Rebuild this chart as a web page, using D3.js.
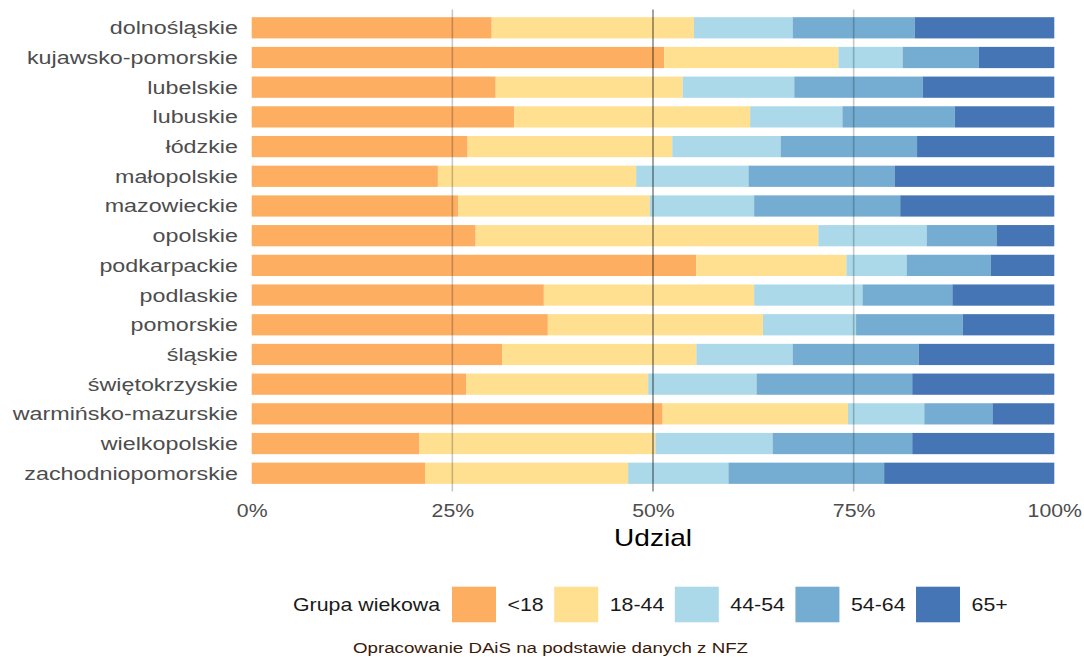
<!DOCTYPE html>
<html>
<head>
<meta charset="utf-8">
<script src="https://cdn.jsdelivr.net/npm/d3@7"></script>
<style>
  html, body { margin: 0; padding: 0; background: #fff; }
  svg { display: block; }
  text { font-family: "Liberation Sans", Arial, Helvetica, sans-serif; }
</style>
</head>
<body>
<svg id="chart" width="1084" height="657"></svg>
<script>
// ---- Data ----
const regions = ["dolnośląskie","kujawsko-pomorskie","lubelskie","lubuskie","łódzkie","małopolskie","mazowieckie","opolskie","podkarpackie","podlaskie","pomorskie","śląskie","świętokrzyskie","warmińsko-mazurskie","wielkopolskie","zachodniopomorskie"];
const ageGroups = ["<18","18-44","44-54","54-64","65+"];
const ageColors = ["#FDAE61","#FEE090","#ABD9E9","#74ADD1","#4575B4"];
const under18 = [29.9,51.4,30.4,32.7,26.9,23.2,25.7,27.9,55.4,36.4,36.9,31.2,26.7,51.2,20.9,21.6];
const age18_44 = [25.2,21.7,23.3,29.4,25.5,24.7,23.9,42.7,18.7,26.2,26.8,24.2,22.7,23.1,29.4,25.3];
const age44_54 = [12.3,8.0,13.9,11.5,13.5,14.0,13.0,13.5,7.5,13.5,11.6,12.0,13.5,9.5,14.6,12.5];
const age54_64 = [15.2,9.5,16.0,14.0,17.0,18.2,18.2,8.7,10.5,11.2,13.3,15.7,19.4,8.5,17.4,19.4];
const age65plus = [17.4,9.4,16.4,12.4,17.1,19.9,19.2,7.2,7.9,12.7,11.4,16.9,17.7,7.7,17.7,21.2];
const xTicks = [0, 0.25, 0.5, 0.75, 1];
const xTickLabels = ["0%","25%","50%","75%","100%"];
const xTitle = "Udzial";
const legendTitle = "Grupa wiekowa";
const caption = "Opracowanie DAiS na podstawie danych z NFZ";

// ---- Build table ----
const seriesVals = [under18, age18_44, age44_54, age54_64, age65plus];
const table = regions.map((r, i) => {
  const row = { region: r };
  const tot = d3.sum(seriesVals, s => s[i]);
  ageGroups.forEach((g, k) => row[g] = seriesVals[k][i] / tot);
  return row;
});
const stacked = d3.stack().keys(ageGroups)(table);

const svg = d3.select("#chart");
const SX = 1.22; // horizontal text stretch of the reference
const SY_LAB = 1.26;

const x = d3.scaleLinear().domain([0, 1]).range([251.7, 1054.3]);
const y = d3.scaleBand().domain(regions).range([12.95, 488.1]).paddingInner(0.285).paddingOuter(0.1425);
const color = d3.scaleOrdinal().domain(ageGroups).range(ageColors);

// bars
svg.append("g").selectAll("g").data(stacked).join("g")
  .attr("fill", d => color(d.key))
  .selectAll("rect").data(d => d).join("rect")
  .attr("x", d => x(d[0]))
  .attr("y", d => y(d.data.region))
  .attr("width", d => x(d[1]) - x(d[0]))
  .attr("height", y.bandwidth());

// grid lines drawn over bars (as in reference)
svg.append("g").selectAll("line").data([0.25, 0.5, 0.75]).join("line")
  .attr("x1", d => x(d)).attr("x2", d => x(d))
  .attr("y1", 9.5).attr("y2", 491.5)
  .attr("stroke", "#000")
  .attr("stroke-opacity", d => d === 0.5 ? 0.45 : 0.22)
  .attr("stroke-width", 1.6);

// y labels
svg.append("g").selectAll("text").data(regions).join("text")
  .attr("transform", d => `translate(238, ${y(d) + y.bandwidth() / 2}) scale(${SY_LAB},1)`)
  .attr("text-anchor", "end")
  .attr("dy", "0.35em")
  .attr("font-size", 18.5)
  .attr("fill", "#4d4d4d")
  .text(d => d);

// x axis
const xAxis = d3.axisBottom(x).tickValues(xTicks)
  .tickFormat((d, i) => xTickLabels[i]).tickSize(0).tickPadding(0);
const ax = svg.append("g").call(xAxis);
ax.select(".domain").remove();
ax.selectAll(".tick text")
  .attr("y", null).attr("dy", null)
  .attr("transform", "translate(0,517) scale(1.15,1)")
  .attr("font-size", 18.5)
  .attr("font-family", "Liberation Sans, Arial, sans-serif")
  .attr("fill", "#4d4d4d");

// x title
svg.append("text")
  .attr("transform", `translate(${x(0.5)}, 546) scale(${SX},1)`)
  .attr("text-anchor", "middle")
  .attr("font-size", 23)
  .attr("fill", "#000")
  .text(xTitle);

// legend
const lg = svg.append("g");
lg.append("text")
  .attr("transform", `translate(293, 611) scale(${SX},1)`)
  .attr("font-size", 17.5).attr("fill", "#1a1a1a")
  .text(legendTitle);
let lx = 452;
ageGroups.forEach((g, i) => {
  lg.append("rect").attr("x", lx).attr("y", 586.7).attr("width", 44).attr("height", 35.6)
    .attr("fill", color(g));
  const t = lg.append("text")
    .attr("transform", `translate(${lx + 55.5}, 611) scale(${SX},1)`)
    .attr("font-size", 17.5).attr("fill", "#1a1a1a")
    .text(g);
  const w = t.node().getComputedTextLength() * SX;
  lx = lx + 55.5 + w + 10.5;
});

// caption
svg.append("text")
  .attr("x", 353).attr("y", 652.5)
  .attr("font-family", "'Open Sans', 'Noto Sans', sans-serif")
  .attr("font-size", 14)
  .attr("fill", "#3a1a08")
  .attr("textLength", 395)
  .attr("lengthAdjust", "spacingAndGlyphs")
  .text(caption);
</script>
</body>
</html>
